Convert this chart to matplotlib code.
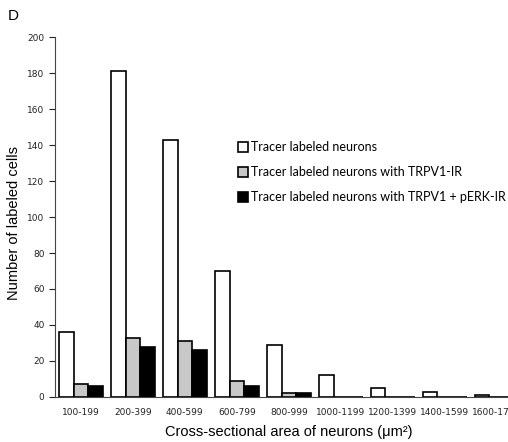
import matplotlib
matplotlib.use('Agg')
import matplotlib.pyplot as plt
import numpy as np

categories = ['100-199', '200-399', '400-599', '600-799', '800-999',
              '1000-1199', '1200-1399', '1400-1599', '1600-1799']
tracer = [36, 181, 143, 70, 29, 12, 5, 3, 1]
trpv1 = [7, 33, 31, 9, 2, 0, 0, 0, 0]
trpv1_perk = [6, 28, 26, 6, 2, 0, 0, 0, 0]
labels = ['Tracer labeled neurons',
          'Tracer labeled neurons with TRPV1-IR',
          'Tracer labeled neurons with TRPV1 + pERK-IR']

fig = plt.figure(figsize=(5.08, 4.42), dpi=100)
ax = fig.add_axes([0.108, 0.102, 0.921, 0.814])

x = np.arange(len(categories))
w = 0.28
b1 = ax.bar(x - w, tracer, w, color='white', edgecolor='black', linewidth=1.2)
b2 = ax.bar(x, trpv1, w, color='#c8c8c8', edgecolor='black', linewidth=1.2)
b3 = ax.bar(x + w, trpv1_perk, w, color='black', edgecolor='black', linewidth=1.2)

ax.set_xlim(-0.5, len(categories) - 0.5)
ax.set_ylim(0, 200)
ax.set_yticks(range(0, 201, 20))
ax.set_xticks(x)
ax.set_xticklabels(categories, fontsize=6.5, family='DejaVu Sans', color='#222222')
ax.tick_params(axis='x', length=0, pad=8)
ax.tick_params(axis='y', labelsize=6.5, length=4, colors='#222222')
for t in ax.get_yticklabels():
    t.set_family('DejaVu Sans')

for s in ['top', 'right']:
    ax.spines[s].set_visible(False)
ax.spines['left'].set_color('#444444')
ax.spines['bottom'].set_color('#444444')

ax.set_xlabel('Cross-sectional area of neurons (\u03bcm\u00b2)', fontsize=10.5,
              family='Liberation Sans', labelpad=6)
fig.text(14 / 508, 1 - 223 / 442, 'Number of labeled cells', rotation=90,
         ha='center', va='center', fontsize=10.5, family='Liberation Sans')

leg = ax.legend([b1, b2, b3], labels, loc='upper left', bbox_to_anchor=(0.38, 0.725),
                frameon=False, prop={'family': 'Lato', 'size': 9},
                handlelength=0.8, handleheight=0.8, handletextpad=0.3,
                labelspacing=1.05, borderaxespad=0)

fig.text(0.015, 0.955, 'D', fontsize=11, family='Liberation Sans')

fig.savefig('out.png', dpi=100)
